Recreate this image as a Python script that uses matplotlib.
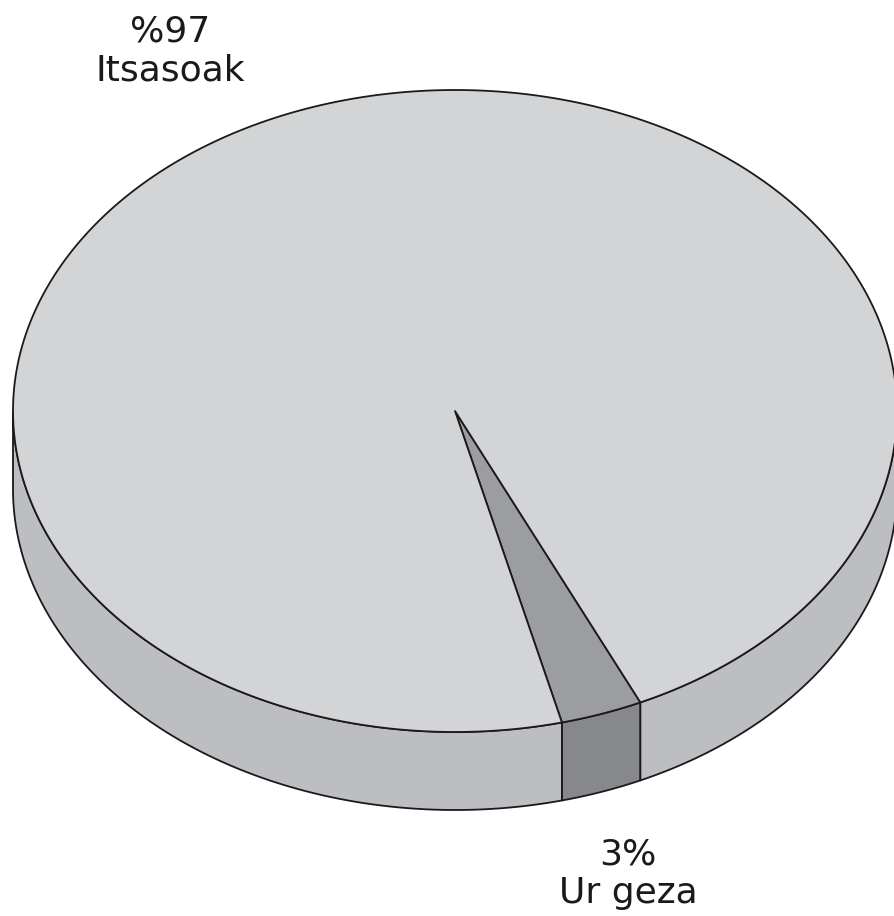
import numpy as np
import matplotlib
matplotlib.use("Agg")
import matplotlib.pyplot as plt
from matplotlib.patches import Polygon

# Data
categories = ["Itsasoak", "Ur geza"]
values = [97, 3]
label_texts = ["%97\nItsasoak", "3%\nUr geza"]
top_colors = ["#d3d4d6", "#9c9da0"]
side_colors = ["#bdbec1", "#87888b"]

# Geometry (pixel space)
cx, cy = 455.0, 411.0
a, b = 442.0, 321.0
depth = 78.0
start_angle = 284.0  # degrees, start of small slice (counter-clockwise)

fig = plt.figure(figsize=(8.94, 9.16), dpi=100)
ax = fig.add_axes([0, 0, 1, 1])
ax.set_xlim(0, 894)
ax.set_ylim(916, 0)
ax.axis("off")


def pt(theta_deg, dz=0.0):
    t = np.radians(theta_deg)
    return cx + a * np.cos(t), cy - b * np.sin(t) + dz


def arc(t0, t1, dz=0.0, n=200):
    ts = np.linspace(t0, t1, n)
    xs, ys = pt(ts, dz)
    return np.column_stack([xs, ys])


# slice angle ranges: small slice first at start_angle, then big
total = float(sum(values))
order = [1, 0]
ranges = {}
ang = start_angle
for i in order:
    span = values[i] / total * 360.0
    ranges[i] = (ang, ang + span)
    ang += span

# side faces (visible lower half: 180..360 mod 360)
def visible_parts(t0, t1):
    parts = []
    for k in range(-1, 3):
        lo, hi = 180 + 360 * k, 360 + 360 * k
        s, e = max(t0, lo), min(t1, hi)
        if e > s:
            parts.append((s, e))
    return parts

for i in order:
    t0, t1 = ranges[i]
    for s, e in visible_parts(t0, t1):
        top = arc(s, e)
        bot = arc(e, s, depth)
        poly = Polygon(np.vstack([top, bot]), closed=True, facecolor=side_colors[i],
                       edgecolor="#1a1a1a", linewidth=1.3, joinstyle="round")
        ax.add_patch(poly)

# top faces
for i in order:
    t0, t1 = ranges[i]
    pts = np.vstack([[cx, cy], arc(t0, t1, n=600)])
    poly = Polygon(pts, closed=True, facecolor=top_colors[i],
                   edgecolor="#1a1a1a", linewidth=1.3, joinstyle="round")
    ax.add_patch(poly)

# labels
ax.text(170, 51, label_texts[0], ha="center", va="center", fontsize=26,
        color="#1a1a1a", linespacing=1.15, family="DejaVu Sans")
ax.text(628, 874, label_texts[1], ha="center", va="center", fontsize=26,
        color="#1a1a1a", linespacing=1.15, family="DejaVu Sans")

fig.savefig("out.png", dpi=100, facecolor="white")
